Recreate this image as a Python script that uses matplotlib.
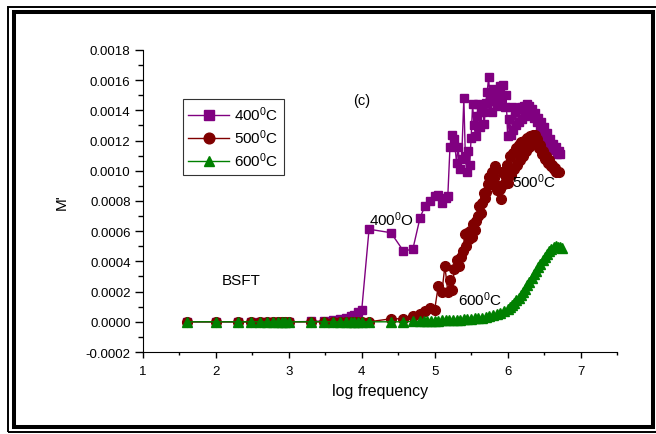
import matplotlib
matplotlib.use('Agg')
import matplotlib.pyplot as plt
from matplotlib.patches import Rectangle
from matplotlib.ticker import MultipleLocator

plt.rcParams['font.family'] = ['Liberation Sans', 'DejaVu Sans']
plt.rcParams['mathtext.default'] = 'regular'

# log frequency points shared by all three temperatures at the low end
low_x = [1.6, 2.0, 2.3, 2.48, 2.6, 2.7, 2.78, 2.85, 2.9, 2.95, 3.0,
         3.3, 3.48, 3.6, 3.7, 3.78, 3.85, 3.9, 3.95, 4.0]

# 400 C
x400 = low_x + [4.1, 4.4, 4.57, 4.7, 4.8, 4.87, 4.94, 5.0, 5.05, 5.1, 5.15, 5.18,
                5.21, 5.24, 5.27, 5.30, 5.32, 5.35, 5.37, 5.40, 5.42, 5.44, 5.46, 5.48,
                5.50, 5.52, 5.54, 5.56, 5.58, 5.60, 5.62, 5.64, 5.66, 5.68, 5.70, 5.72,
                5.74, 5.76, 5.78, 5.80, 5.82, 5.84, 5.86, 5.88, 5.90, 5.92, 5.94, 5.96,
                5.98, 6.00, 6.02, 6.04, 6.06, 6.08, 6.10, 6.12, 6.14, 6.16, 6.18, 6.20,
                6.22, 6.24, 6.26, 6.28, 6.30, 6.32, 6.34, 6.36, 6.38, 6.40, 6.42, 6.44,
                6.46, 6.48, 6.50, 6.52, 6.54, 6.56, 6.58, 6.60, 6.62, 6.64, 6.66, 6.68,
                6.70, 6.72]
m400 = [0.0] * 11 + [0.000002, 0.000006, 0.00001, 0.000018, 0.000026, 0.000036,
                     0.000048, 0.000062, 0.00008] + \
       [0.000613, 0.00059, 0.00047, 0.00048, 0.00069, 0.00077, 0.0008, 0.00083,
        0.00084, 0.00079, 0.00082, 0.00083,
        0.00116, 0.00124, 0.00121, 0.00105, 0.00116, 0.00101, 0.00108, 0.00148,
        0.00110, 0.00099, 0.00113, 0.00104, 0.00122, 0.00144, 0.00130, 0.00123,
        0.00136, 0.00144, 0.00129, 0.00141, 0.00139, 0.00131, 0.00145, 0.00152,
        0.00162, 0.00146, 0.00139, 0.00154, 0.00147, 0.00150, 0.00143, 0.00148,
        0.00156, 0.00150, 0.00157, 0.00142, 0.00150,
        0.00123, 0.00134, 0.00124, 0.00142, 0.00127, 0.00139, 0.00130, 0.00141,
        0.00132, 0.00142, 0.00134, 0.00143, 0.00136, 0.00144, 0.00137, 0.00143,
        0.00137, 0.00141, 0.00135, 0.00138, 0.00132, 0.00135, 0.00128, 0.00132,
        0.00125, 0.00129, 0.00122, 0.00125, 0.00119, 0.00121, 0.00116, 0.00118,
        0.00114, 0.00116, 0.00111, 0.00113, 0.00111]

# 500 C
x500 = low_x + [4.1, 4.4, 4.57, 4.7, 4.8, 4.87, 4.94, 5.0, 5.05, 5.1, 5.14, 5.18,
                5.21, 5.24, 5.27, 5.30, 5.33, 5.36, 5.39, 5.41, 5.43, 5.45, 5.47, 5.49,
                5.51, 5.53, 5.55, 5.57, 5.59, 5.61, 5.63, 5.65, 5.67, 5.69, 5.71, 5.73,
                5.75, 5.77, 5.79, 5.81, 5.83, 5.85, 5.87, 5.89, 5.91, 5.93, 5.95, 5.97,
                5.99, 6.01, 6.03, 6.05, 6.07, 6.09, 6.11, 6.13, 6.15, 6.17, 6.19, 6.21,
                6.23, 6.25, 6.27, 6.29, 6.31, 6.33, 6.35, 6.37, 6.39, 6.41, 6.43, 6.45,
                6.47, 6.49, 6.51, 6.53, 6.55, 6.57, 6.59, 6.61, 6.63, 6.65, 6.67, 6.70]
m500 = [0.0] * 20 + \
       [0.0, 0.00002, 0.00002, 0.00004, 0.00005, 0.00007, 0.00009, 0.00008,
        0.00024, 0.00020, 0.00037, 0.00020, 0.00028, 0.00021, 0.00035, 0.00041,
        0.00037, 0.00043, 0.00047, 0.00058, 0.00050, 0.00059, 0.00055, 0.00060,
        0.00056, 0.00065, 0.00061, 0.00067, 0.00070, 0.00077, 0.00072, 0.00079,
        0.00085, 0.00082, 0.00086, 0.00091, 0.00096, 0.00091, 0.00099, 0.00095,
        0.00103, 0.00087, 0.00090, 0.00088, 0.00081, 0.00099, 0.00091, 0.00097,
        0.00104, 0.00092, 0.00110, 0.00097, 0.00112, 0.00101, 0.00115, 0.00104,
        0.00117, 0.00107, 0.00119, 0.00110, 0.00120, 0.00113, 0.00122, 0.00116,
        0.00123, 0.00118, 0.00124, 0.00124, 0.00120, 0.00121, 0.00115, 0.00117,
        0.00111, 0.00113, 0.00108, 0.00110, 0.00105, 0.00107, 0.00103, 0.00104,
        0.00101, 0.00102, 0.00099, 0.00099]

# 600 C
x600 = low_x + [4.1, 4.4, 4.57, 4.7, 4.8, 4.85, 4.90, 4.95, 5.00, 5.05, 5.10, 5.15,
                5.20, 5.25, 5.30, 5.35, 5.40, 5.45, 5.50, 5.55, 5.60, 5.65, 5.70, 5.75,
                5.80, 5.85, 5.90, 5.95, 6.00, 6.03, 6.06, 6.09, 6.12, 6.15, 6.18, 6.21,
                6.24, 6.27, 6.30, 6.33, 6.36, 6.39, 6.42, 6.45, 6.48, 6.51, 6.54, 6.57,
                6.60, 6.63, 6.66, 6.69, 6.72, 6.74]
m600 = [0.0] * 20 + \
       [0.0, 0.0, 0.0, 0.000002, 0.000003, 0.000004, 0.000005, 0.000006, 0.000007,
        0.000008, 0.000009, 0.00001, 0.000011, 0.000012, 0.000013, 0.000014,
        0.000016, 0.000018, 0.00002, 0.000022, 0.000025, 0.000028, 0.000032,
        0.000037, 0.000043, 0.00005, 0.000059, 0.00007, 0.000083, 0.000095,
        0.00011, 0.000125, 0.000142, 0.00016, 0.00018, 0.0002, 0.00022, 0.000243,
        0.000266, 0.00029, 0.000314, 0.000338, 0.000362, 0.000385, 0.000408,
        0.00043, 0.000449, 0.000467, 0.000482, 0.000494, 0.0005, 0.000498,
        0.000494, 0.000488]

fig = plt.figure(figsize=(6.56, 4.35), dpi=100)
ax = fig.add_axes([0.218, 0.1885, 0.7225, 0.6943])

ax.plot(x400, m400, color='#800080', marker='s', markersize=6, lw=1,
        label='400$^0$C')
ax.plot(x500, m500, color='#800000', marker='o', markersize=7, lw=1,
        label='500$^0$C')
ax.plot(x600, m600, color='#008000', marker='^', markersize=7, lw=1,
        label='600$^0$C')

ax.set_xlim(1, 7.5)
ax.set_ylim(-0.0002, 0.0018)
ax.xaxis.set_major_locator(MultipleLocator(1))
ax.xaxis.set_minor_locator(MultipleLocator(0.5))
ax.yaxis.set_major_locator(MultipleLocator(0.0002))
ax.yaxis.set_minor_locator(MultipleLocator(0.0001))
ax.yaxis.set_major_formatter(plt.FormatStrFormatter('%.4f'))

for side in ['top', 'right']:
    ax.spines[side].set_visible(False)
ax.tick_params(axis='y', which='major', direction='out', length=6, width=1,
               labelsize=9.5, pad=3)
ax.tick_params(axis='y', which='minor', direction='out', length=3.5, width=1)
ax.tick_params(axis='x', which='major', direction='out', length=4, width=1,
               labelsize=9.5, pad=5)
ax.tick_params(axis='x', which='minor', direction='out', length=2.5, width=1)

ax.set_xlabel('log frequency', fontsize=11.5, labelpad=5)
ax.set_ylabel("M'", fontsize=11, labelpad=12)

ax.text(4.0, 0.00147, '(c)', fontsize=10.5, ha='center', va='center')
ax.text(4.1, 0.00068, '400$^0$O', fontsize=11, ha='left', va='center')
ax.text(6.06, 0.000934, '500$^0$C', fontsize=11, ha='left', va='center')
ax.text(5.32, 0.000155, '600$^0$C', fontsize=11, ha='left', va='center')
ax.text(2.08, 0.00028, 'BSFT', fontsize=11, ha='left', va='center')

leg = ax.legend(loc='upper left', bbox_to_anchor=(0.0838, 0.838), borderaxespad=0,
                fontsize=11, fancybox=False, edgecolor='#333333', framealpha=1,
                handlelength=2.7, handletextpad=0.3, borderpad=0.35,
                labelspacing=0.3, markerscale=1.1)
leg.get_frame().set_linewidth(0.8)

# double border around the whole figure
W, H = 656, 435
fig.add_artist(Rectangle((8 / W, 1 - 433 / H), 660 / W, 425.5 / H,
                         transform=fig.transFigure, fill=False, lw=1.4,
                         edgecolor='black'))
fig.add_artist(Rectangle((14 / W, 1 - 428 / H), 639 / W, 415 / H,
                         transform=fig.transFigure, fill=False, lw=2.9,
                         edgecolor='black'))

fig.savefig('out.png', dpi=100)
